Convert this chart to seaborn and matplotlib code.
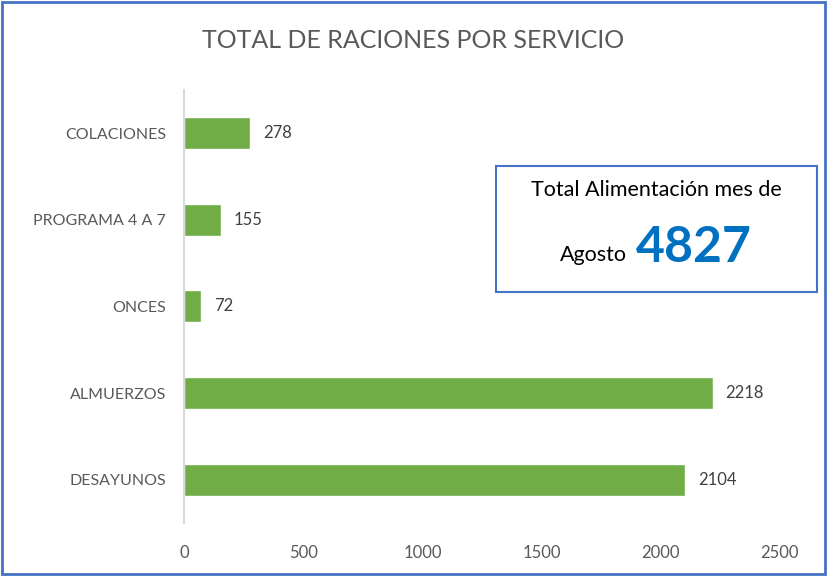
import numpy as np
import pandas as pd
import seaborn as sns
import matplotlib.pyplot as plt
from matplotlib.patches import Rectangle

servicios = ['COLACIONES', 'PROGRAMA 4 A 7', 'ONCES', 'ALMUERZOS', 'DESAYUNOS']
raciones = [278, 155, 72, 2218, 2104]
x_ticks = [0, 500, 1000, 1500, 2000, 2500]
titulo = 'TOTAL DE RACIONES POR SERVICIO'
total_mes = 4827

sns.set_style('white')
plt.rcParams['font.family'] = ['Lato', 'DejaVu Sans']

df = pd.DataFrame({'servicio': servicios, 'raciones': raciones})

fig = plt.figure(figsize=(8.27, 5.76), dpi=100)
ax = fig.add_axes([0.2225, 0.092, 0.7205, 0.752])

sns.barplot(data=df, x='raciones', y='servicio', orient='h', color='#70AD47',
            width=0.37, saturation=1, ax=ax)
ax.bar_label(ax.containers[0], padding=9, fontsize=12, color='#404040')

ax.set_xlim(0, 2500)
ax.set_ylim(4.5, -0.5)
ax.set_xticks(x_ticks)
ax.set_xticklabels([str(t) for t in x_ticks], fontsize=12, color='#595959')
plt.yticks(fontsize=11.5, color='#595959')
ax.tick_params(axis='x', length=0, pad=16)
ax.tick_params(axis='y', length=0, pad=13)
ax.set_xlabel('')
ax.set_ylabel('')
for side in ['top', 'right', 'bottom']:
    ax.spines[side].set_visible(False)
ax.spines['left'].set_color('#D9D9D9')
ax.spines['left'].set_linewidth(1.5)

fig.text(0.5, 0.93, titulo, ha='center', va='center', fontsize=18, color='#595959')

# cuadro del total
box = Rectangle((496 / 827, 1 - 292 / 576), 321 / 827, 126 / 576, transform=fig.transFigure,
                facecolor='white', edgecolor='#4472C4', linewidth=1.5)
fig.add_artist(box)
fig.text(656 / 827, 1 - 190 / 576, 'Total Alimentación mes de', ha='center', va='center',
         fontsize=15.5, color='black')
fig.text(627 / 827, 1 - 255 / 576, 'Agosto', ha='right', va='center', fontsize=15.5, color='black')
fig.text(636 / 827, 1 - 262 / 576, str(total_mes), ha='left', va='baseline', fontsize=36,
         fontweight='bold', color='#0070C0')

# borde exterior
fig.add_artist(Rectangle((0.002, 0.003), 0.996, 0.994, transform=fig.transFigure,
                         facecolor='none', edgecolor='#4472C4', linewidth=2))

fig.savefig('out.png', dpi=100)
